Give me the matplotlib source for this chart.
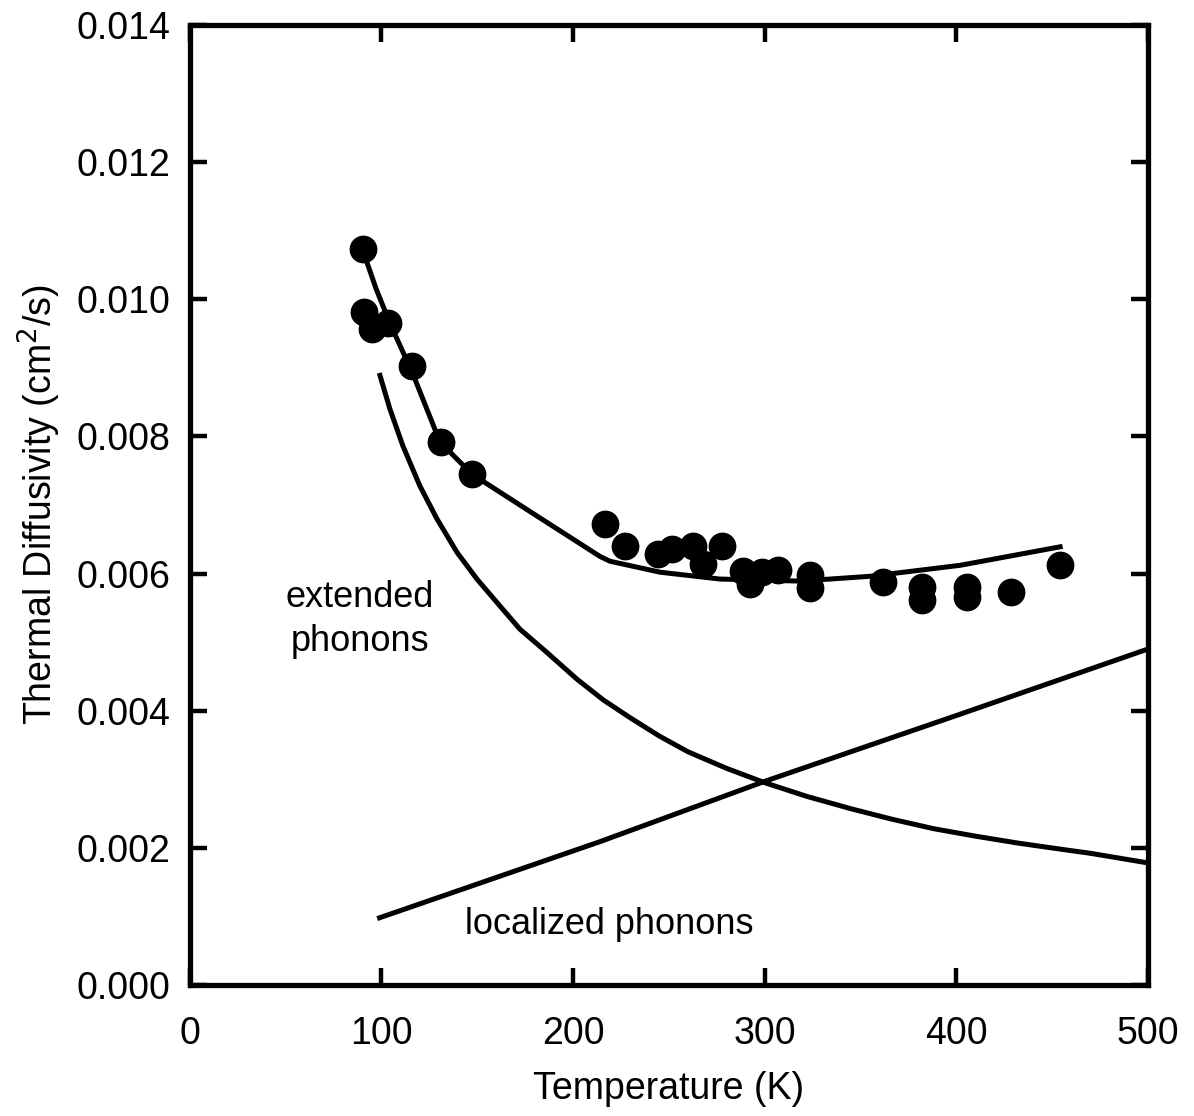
import numpy as np
import matplotlib.pyplot as plt
from matplotlib.ticker import FormatStrFormatter

plt.rcParams['font.family'] = ['Liberation Sans', 'DejaVu Sans']

# measured points (T in K, diffusivity in cm^2/s)
temp_pts = [90.3, 90.8, 95.0, 103.3, 115.9, 131.0, 147.2, 216.6, 227.0, 244.3,
            251.6, 262.5, 267.7, 277.7, 288.6, 292.3, 298.5, 306.9, 323.6, 323.6,
            361.7, 382.0, 382.0, 405.5, 405.5, 428.5, 454.1]
diff_pts = [0.01074, 0.00981, 0.00957, 0.00966, 0.00903, 0.00792, 0.00745, 0.00672,
            0.00640, 0.00628, 0.00636, 0.00640, 0.00614, 0.00640, 0.00604, 0.00585,
            0.00602, 0.00605, 0.00598, 0.00579, 0.00587, 0.00580, 0.00561, 0.00580,
            0.00566, 0.00573, 0.00612]

# total fit
temp_fit = [90.3, 97.1, 104.4, 116.4, 130.5, 147.2, 181.1, 214.0, 219.2, 245.3,
            276.6, 318.4, 354.9, 401.9, 454.1]
diff_fit = [0.01071, 0.01016, 0.00965, 0.00891, 0.00792, 0.00745, 0.00684, 0.00625,
            0.00618, 0.00602, 0.00592, 0.00589, 0.00596, 0.00612, 0.00639]

# extended phonon contribution
temp_ext = [99.2, 104.4, 111.2, 120.0, 128.9, 139.4, 149.8, 160.2, 172.2, 186.3,
            202.0, 215.6, 229.6, 245, 260, 280, 300, 322, 345, 366, 388, 410,
            432, 452, 470, 485, 500]
diff_ext = [0.00889, 0.00840, 0.00786, 0.00728, 0.00680, 0.00631, 0.00592, 0.00558,
            0.00519, 0.00485, 0.00446, 0.00416, 0.00390, 0.00363, 0.00340, 0.00316,
            0.00295, 0.00275, 0.00257, 0.00242, 0.00228, 0.00217, 0.00207, 0.00199,
            0.00192, 0.00185, 0.00178]

# localized phonon contribution
temp_loc = [99, 214, 300, 400, 500]
diff_loc = [0.00098, 0.00209, 0.00297, 0.00393, 0.00490]

fig = plt.figure(figsize=(11.94, 11.16), dpi=100)
ax = fig.add_axes([0.159, 0.1174, 0.8025, 0.8602])

lw = 3.6
ax.plot(temp_fit, diff_fit, color='black', lw=lw, solid_joinstyle='round')
ax.plot(temp_ext, diff_ext, color='black', lw=lw, solid_joinstyle='round')
ax.plot(temp_loc, diff_loc, color='black', lw=lw, solid_joinstyle='round')
ax.plot(temp_pts, diff_pts, 'o', color='black', ms=19, zorder=3)

ax.text(88.7, 0.00533, "extended\nphonons", fontsize=26, ha='center', va='center',
        linespacing=1.35)
ax.text(219, 0.00088, "localized phonons", fontsize=26, ha='center', va='center')

ax.set_xlim(0, 500)
ax.set_ylim(0, 0.014)
ax.set_xticks(np.arange(0, 501, 100))
ax.set_yticks(np.arange(0, 0.0141, 0.002))
ax.yaxis.set_major_formatter(FormatStrFormatter('%.3f'))
ax.tick_params(direction='in', length=12, width=3.2, labelsize=27,
               top=True, right=True)
ax.tick_params(axis='x', pad=22)
ax.tick_params(axis='y', pad=14)
for s in ax.spines.values():
    s.set_linewidth(3.8)

ax.set_xlabel("Temperature (K)", fontsize=27, labelpad=14)
ax.set_ylabel("Thermal Diffusivity (cm$^2$/s)", fontsize=27, labelpad=10)

fig.savefig("out.png", dpi=100)
